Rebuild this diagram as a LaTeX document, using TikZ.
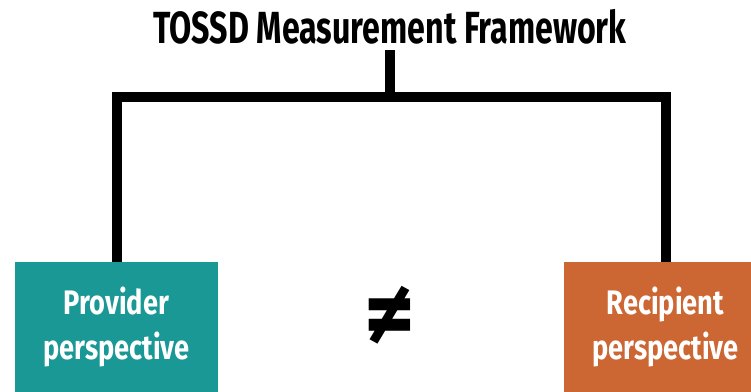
\documentclass[tikz,border=0pt]{standalone}
\usepackage{fontspec}
\setmainfont{Fira Sans}[FakeStretch=0.8]
\newfontfamily\headfont{Fira Sans}[FakeStretch=0.715]
\newfontfamily\symfont{Fira Sans}
\usetikzlibrary{calc}
\definecolor{tealbox}{RGB}{26,152,150}
\definecolor{orangebox}{RGB}{204,102,51}

\begin{document}
\begin{tikzpicture}[x=1pt,y=-1pt,
  link/.style={line width=10pt, line join=miter},
  persp/.style={minimum width=203pt, minimum height=130pt, inner sep=0pt,
    text=white, align=center, font=\fontsize{34}{45}\selectfont\bfseries},
]
\useasboundingbox (0,0) rectangle (751,391);
\clip (0,0) rectangle (751,391);

% heading
\node[anchor=base, inner sep=0pt, font=\headfont\fontsize{45}{50}\selectfont\bfseries]
  (title) at (390,43) {TOSSD Measurement Framework};

% the two perspectives
\node[persp, fill=tealbox] (provider) at (116.5,327) {Provider\\perspective};
\node[persp, fill=orangebox] (recipient) at (665.5,327) {Recipient\\perspective};

% inequality sign between them
\node[inner sep=0pt, font=\symfont\bfseries\fontsize{98}{98}\selectfont]
  (neq) at (390,317) {≠};

% bracket joining the heading to both boxes
\coordinate (hub) at (390,97);
\draw[link] (provider.north) |- (hub) -| (recipient.north);
\draw[link] ($(title.base)+(0,7)$) -- (hub);
\end{tikzpicture}
\end{document}
